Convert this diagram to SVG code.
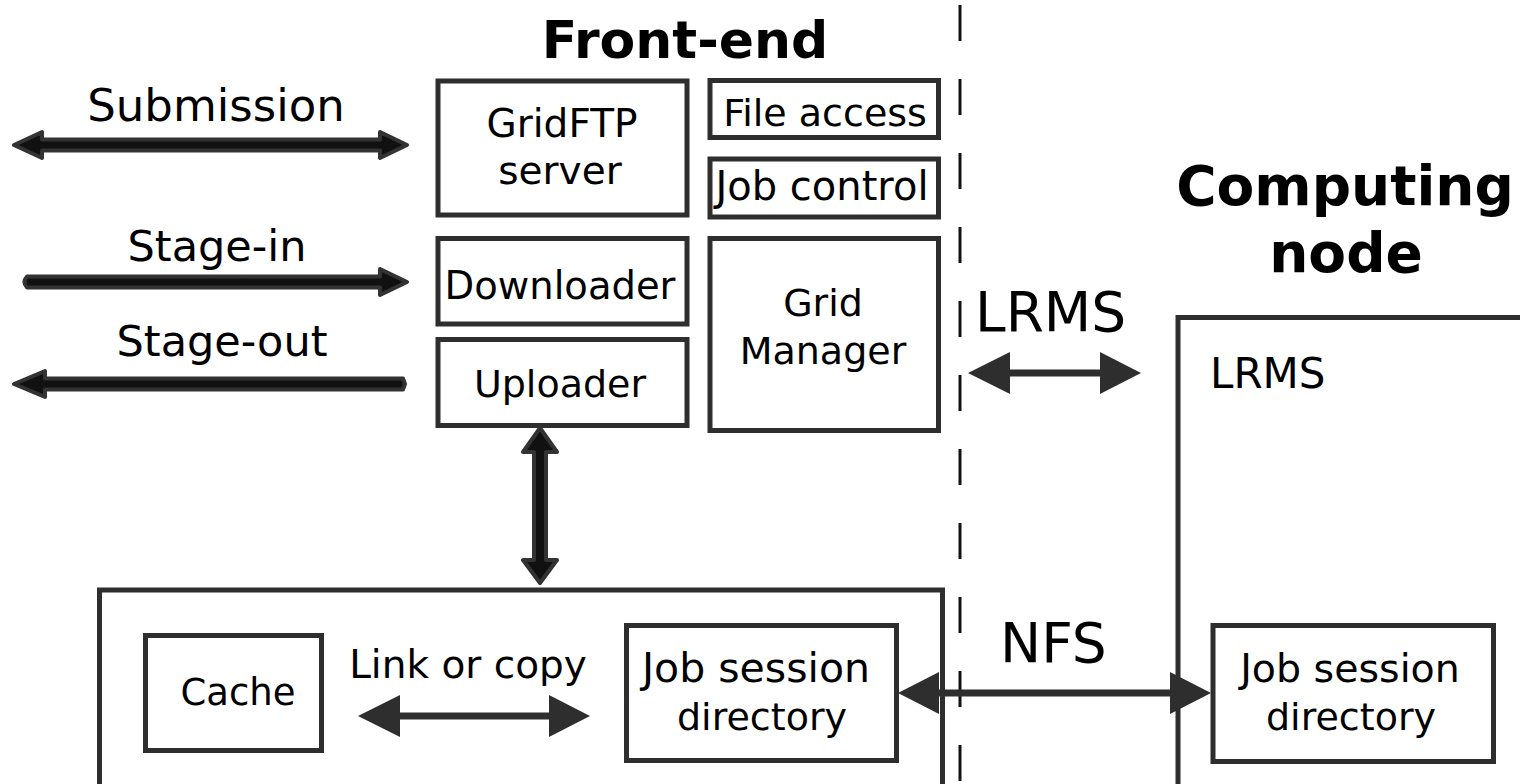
<svg xmlns="http://www.w3.org/2000/svg" width="1520" height="784" viewBox="0 0 1520 784">
<style>
.box{fill:none;stroke:#2e2e2e;stroke-width:5}
.t{font-family:"DejaVu Sans","Liberation Sans",sans-serif;fill:#000}
.c{text-anchor:middle}
.b{font-weight:bold}
.thick{fill:#111;stroke:#333;stroke-width:4;stroke-linejoin:round}
.thin{stroke:#2e2e2e;stroke-width:7;fill:none}
.head{fill:#2e2e2e}
</style>
<rect width="1520" height="784" fill="#fff"/>
<g id="titles">
<text class="t b c" x="685" y="58" font-size="52">Front-end</text>
<text class="t b c" x="1345" y="205" font-size="55">Computing</text>
<text class="t b c" x="1346" y="272" font-size="55">node</text>
</g>
<g id="gridftp"><rect class="box" x="438" y="81" width="249" height="134"/>
<text class="t c" x="562" y="137" font-size="39">GridFTP</text>
<text class="t c" x="560" y="184" font-size="39">server</text></g>
<g id="fileaccess"><rect class="box" x="710" y="80.5" width="228.5" height="57"/>
<text class="t c" x="825" y="126" font-size="38">File access</text></g>
<g id="jobcontrol"><rect class="box" x="710" y="159" width="228.5" height="58"/>
<text class="t c" x="822" y="200" font-size="40">Job control</text></g>
<g id="downloader"><rect class="box" x="438" y="238.5" width="249" height="85.5"/>
<text class="t c" x="560" y="299" font-size="38.5">Downloader</text></g>
<g id="gridmanager"><rect class="box" x="710" y="238.5" width="228.5" height="192"/>
<text class="t c" x="823" y="316" font-size="38">Grid</text>
<text class="t c" x="823" y="364" font-size="38">Manager</text></g>
<g id="uploader"><rect class="box" x="438" y="339.5" width="249" height="86"/>
<text class="t c" x="560" y="397" font-size="38">Uploader</text></g>
<g id="storage"><rect class="box" x="99.5" y="590" width="843" height="220"/></g>
<g id="cache"><rect class="box" x="145.5" y="635.5" width="176" height="115"/>
<text class="t c" x="238" y="705" font-size="37">Cache</text></g>
<g id="jsd-frontend"><rect class="box" x="626.5" y="625.5" width="270" height="135"/>
<text class="t c" x="756" y="682" font-size="41">Job session</text>
<text class="t c" x="762" y="730" font-size="38">directory</text></g>
<g id="computing-node"><rect class="box" x="1178" y="317.5" width="360" height="500"/>
<text class="t" x="1210" y="388" font-size="42">LRMS</text></g>
<g id="jsd-node"><rect class="box" x="1213" y="625.5" width="280.5" height="136"/>
<text class="t c" x="1350" y="682" font-size="39.5">Job session</text>
<text class="t c" x="1351" y="730" font-size="38">directory</text></g>
<g id="labels">
<text class="t c" x="216" y="121" font-size="45">Submission</text>
<text class="t c" x="217" y="261" font-size="43">Stage-in</text>
<text class="t c" x="222" y="356" font-size="43">Stage-out</text>
<text class="t" x="975" y="331" font-size="55">LRMS</text>
<text class="t" x="1000" y="662" font-size="55">NFS</text>
<text class="t c" x="468" y="678" font-size="39">Link or copy</text>
</g>
<g id="connectors">
<line x1="960" y1="5" x2="960" y2="784" stroke="#111" stroke-width="3" stroke-dasharray="36 38"/>
<path class="thick" d="M14,145 L42,132 L42,139.5 L380,139.5 L380,132 L407,145 L380,158 L380,150.5 L42,150.5 L42,158 Z"/>
<path class="thick" d="M27,276.5 L380,276.5 L380,269 L407,282 L380,295 L380,287.5 L27,287.5 Q22,282 27,276.5 Z"/>
<path class="thick" d="M14,384 L45,371 L45,378.5 L403,378.5 L405,384 L403,389.5 L45,389.5 L45,397 Z"/>
<path class="thick" d="M540,428 L557,452 L546,452 L546,560 L557,560 L540,583 L523,560 L534,560 L534,452 L523,452 Z"/>
<line class="thin" x1="1005" y1="373" x2="1105" y2="373"/>
<polygon class="head" points="968,373 1010,352 1010,394"/>
<polygon class="head" points="1141,373 1100,352 1100,394"/>
<line class="thin" x1="395" y1="716" x2="555" y2="716"/>
<polygon class="head" points="358,716 400,695 400,737"/>
<polygon class="head" points="590,716 549,695 549,737"/>
<line class="thin" x1="935" y1="693" x2="1175" y2="693"/>
<polygon class="head" points="898,693 939,672 939,714"/>
<polygon class="head" points="1211,693 1170,672 1170,714"/>
</g>
</svg>
